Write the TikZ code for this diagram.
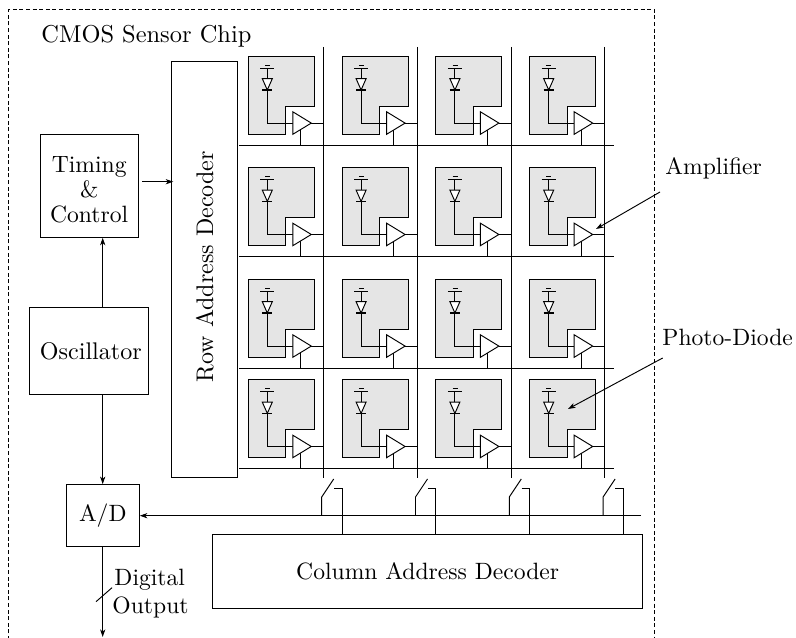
\documentclass[tikz,border=0pt]{standalone}
\usetikzlibrary{arrows.meta}
\newcommand{\pxu}{0.4237pt}
\definecolor{cellgray}{HTML}{E5E5E5}
\tikzset{
  block/.style={draw,inner sep=0pt,align=center,font=\fontsize{10}{10.6}\selectfont},
  lbl/.style={inner sep=0pt,anchor=base west,align=left},
  arr/.style={-{Stealth[length=3.2pt,width=2.2pt,inset=0.9pt]}},
  amp/.style={draw,fill=white,line join=miter},
  cell/.style={draw,fill=cellgray},
  border/.style={dash pattern=on 1.7pt off 1.1pt}
}
\begin{document}
\begin{tikzpicture}[x=\pxu,y=-\pxu]
\useasboundingbox (0,0) rectangle (796,638);
\draw[border] (8.7,640) -- (8.7,9.7) -- (654.7,9.7) -- (654.7,640);
\node[lbl,font=\fontsize{10.35}{12}\selectfont] (chip) at (41,43) {CMOS Sensor Chip};
\node[block,minimum width=97.7*\pxu,minimum height=102.6*\pxu] (timing) at (89.2,186) {\rule{0pt}{9.8pt}Timing\\\&\\Control};
\node[block,font=\fontsize{10.2}{12}\selectfont,minimum width=119.2*\pxu,minimum height=86.6*\pxu] (osc) at (89.1,351) {\hspace*{1.5pt}Oscillator};
\node[block,font=\fontsize{10.18}{12}\selectfont,minimum width=66*\pxu,minimum height=416.7*\pxu] (rowdec) at (204.7,269.6) {\rotatebox{90}{\hspace*{2.5pt}Row Address Decoder}};
\node[block,minimum width=73*\pxu,minimum height=62.3*\pxu] (adc) at (102.8,515.8) {A/D};
\node[block,minimum width=430*\pxu,minimum height=74.4*\pxu] (coldec) at (427.7,571.5) {Column Address Decoder};
% Clock and data connectors
\coordinate (oscup) at (102.7,307.7);
\coordinate (oscdn) at (102.7,394.3);
\draw[arr] (oscup) -- (oscup |- timing.south);
\draw[arr] (oscdn) -- (oscdn |- adc.north);
\coordinate (tmgout) at (142,181.7);
\coordinate (rowin) at (173.3,181.7);
\draw[arr] (tmgout) -- (rowin);
\coordinate (adcout) at (102.7,547);
\coordinate (outend) at (102.7,637);
\draw[arr] (adcout) -- (outend);
\coordinate (ticka) at (96,601.7);
\coordinate (tickb) at (112,587.7);
\draw (ticka) -- (tickb);
\node[lbl] (digital) at (114,586) {Digital};
\node[lbl] (output) at (112,614) {Output};
\coordinate (busR) at (641,515.7);
\draw[arr] (busR) -- (busR -| adc.east);
% Grid lines
\foreach \r/\y in {1/145.7,2/256.7,3/368,4/468.7}{
  \coordinate (rowL\r) at (239,\y);
  \coordinate (rowR\r) at (614,\y);
  \draw (rowL\r) -- (rowR\r);
}
\foreach \c in {0,1,2,3}{
  \coordinate (colT\c) at ({323.5+93.8*\c},47);
  \coordinate (colB\c) at ({323.5+93.8*\c},478);
  \draw (colT\c) -- (colB\c);
  \coordinate (piv\c) at ({321.7+93.8*\c},497);
  \coordinate (swt\c) at ({333.7+93.8*\c},479);
  \coordinate (cona\c) at ({334+93.8*\c},488);
  \coordinate (conb\c) at ({342+93.8*\c},488);
  \draw (piv\c |- busR) -- (piv\c) -- (swt\c);
  \draw (cona\c) -- (conb\c) -- (conb\c |- coldec.north);
}
% Pixel cells
\foreach \r/\y in {1/56.3,2/167.7,3/279.3,4/379.7}{
  \foreach \c in {0,1,2,3}{
    \begin{scope}[shift={({248.3+93.8*\c},\y)}]
      \draw[cell] (0,0) -- (66,0) -- (66,50) -- (37.5,50) -- (37.5,78) -- (0,78) -- cycle;
      \coordinate (tip\c\r) at (63,66.8);
      \coordinate (ampin\c\r) at (44.5,66.8);
      \coordinate (stem\c\r) at (51.7,73.6);
      \coordinate (wire\c\r) at (19,12);
      \draw (wire\c\r) -- (wire\c\r |- ampin\c\r) -- (ampin\c\r);
      \draw (12,12) -- (26,12);
      \draw (16.7,8.7) -- (21.7,8.7);
      \draw[fill=white] (14,22.4) -- (24,22.4) -- (19,33.7) -- cycle;
      \draw[line width=0.5pt] (14,33.7) -- (24,33.7);
      \draw (tip\c\r) -- (tip\c\r -| colT\c);
      \draw (stem\c\r) -- (stem\c\r |- rowL\r);
      \draw[amp] (44.5,55.5) -- (63,66.8) -- (44.5,78) -- cycle;
    \end{scope}
  }
}
% Callouts
\node[lbl] (amplabel) at (665,175) {Amplifier};
\node[lbl] (pdlabel) at (662,346) {Photo-Diode};
\coordinate (ampfrom) at (660,192);
\coordinate (ampto) at (596,229);
\coordinate (pdfrom) at (662.7,358);
\coordinate (pdto) at (568,409);
\draw[arr] (ampfrom) -- (ampto);
\draw[arr] (pdfrom) -- (pdto);
\end{tikzpicture}
\end{document}
